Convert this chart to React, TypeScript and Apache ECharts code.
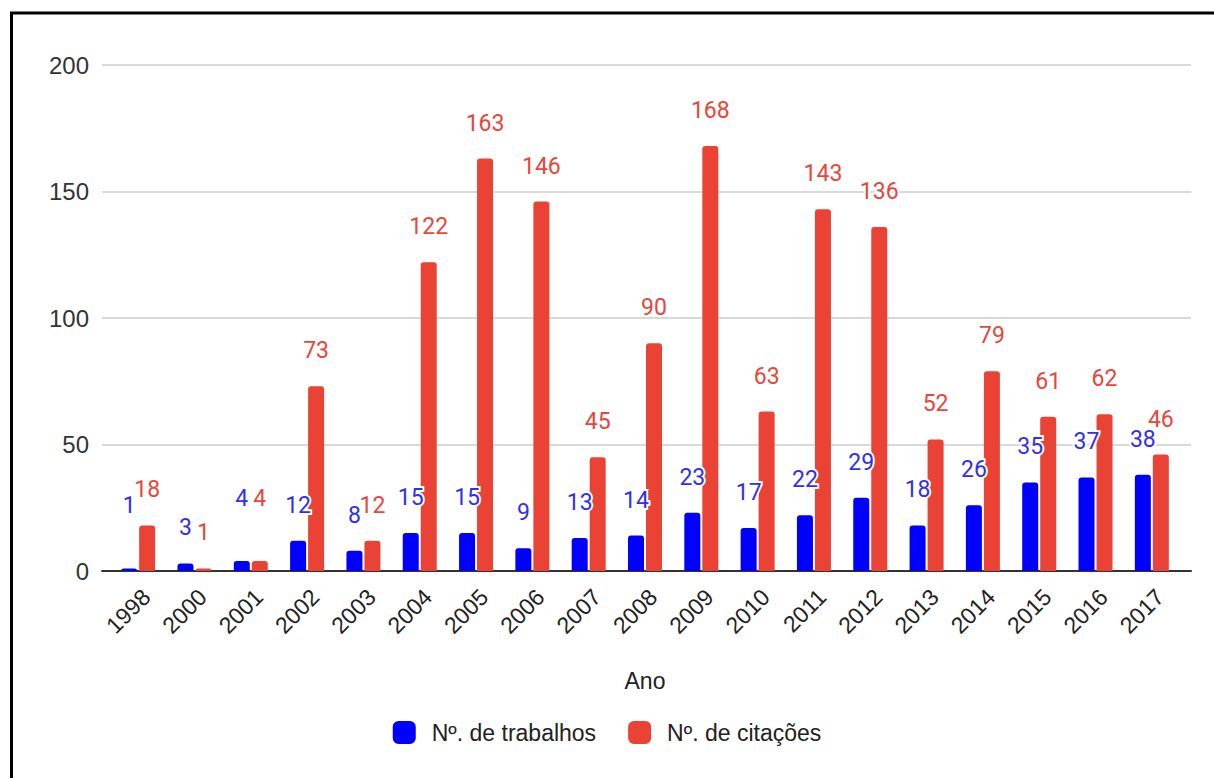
import React, { useEffect, useRef } from "react";
import * as echarts from "echarts";

const years = ["1998", "2000", "2001", "2002", "2003", "2004", "2005", "2006", "2007", "2008", "2009", "2010", "2011", "2012", "2013", "2014", "2015", "2016", "2017"];
const trabalhos = [1, 3, 4, 12, 8, 15, 15, 9, 13, 14, 23, 17, 22, 29, 18, 26, 35, 37, 38];
const citacoes = [18, 1, 4, 73, 12, 122, 163, 146, 45, 90, 168, 63, 143, 136, 52, 79, 61, 62, 46];
const yTicks = [0, 50, 100, 150, 200];

const BLUE = "#0000ff";
const RED = "#ea4335";
const LABEL_FONT = "Roboto";
const AXIS_FONT = "'Liberation Sans', Arial, sans-serif";

export default function App() {
  const ref = useRef<HTMLDivElement>(null);
  useEffect(() => {
    if (!ref.current) return;
    const chart = echarts.init(ref.current, null, { renderer: "svg" });
    const raised = (vals: number[], lift: number[]) =>
      vals.map((v, i) => (lift.includes(i) ? { value: v, label: { offset: [0, -27] } } : v));
    const labelBase = {
      show: true,
      position: "top",
      distance: 24,
      fontFamily: LABEL_FONT,
      fontSize: 23,
      textBorderColor: "#fff",
      textBorderWidth: 4,
    };
    chart.setOption({
      animation: false,
      backgroundColor: "#fff",
      graphic: [
        {
          type: "rect",
          shape: { x: 11.5, y: 13, width: 1400, height: 1000 },
          style: { fill: "none", stroke: "#000", lineWidth: 3 },
          silent: true,
        },
      ],
      grid: [
        { left: 102, right: 23, top: 65, bottom: 207 },
        { left: 110, right: 34, top: 65, bottom: 207 },
      ],
      legend: {
        data: ["Nº. de trabalhos", "Nº. de citações"],
        top: 716,
        left: "center",
        icon: "roundRect",
        itemWidth: 23,
        itemHeight: 23,
        itemGap: 32,
        textStyle: { fontFamily: AXIS_FONT, fontSize: 23, color: "#222", padding: [0, 0, 0, 11] },
      },
      xAxis: [
        {
          gridIndex: 0,
          type: "value",
          min: 0,
          max: 1,
          axisLabel: { show: false },
          axisTick: { show: false },
          splitLine: { show: false },
          axisLine: { show: true, lineStyle: { color: "#333", width: 2 } },
        },
        {
          gridIndex: 1,
          type: "category",
          data: years,
          axisLine: { show: false },
          axisTick: { show: false },
          axisLabel: {
            rotate: 45,
            interval: 0,
            margin: 14,
            verticalAlign: "top",
            fontFamily: AXIS_FONT,
            fontSize: 23,
            color: "#222",
          },
          name: "Ano",
          nameLocation: "middle",
          nameGap: 98,
          nameTextStyle: { fontFamily: AXIS_FONT, fontSize: 23, color: "#222" },
        },
      ],
      yAxis: [
        {
          gridIndex: 0,
          type: "value",
          min: yTicks[0],
          max: yTicks[yTicks.length - 1],
          interval: 50,
          axisLine: { show: false },
          axisTick: { show: false },
          axisLabel: { margin: 13, fontFamily: AXIS_FONT, fontSize: 24, color: "#333" },
          splitLine: { lineStyle: { color: "#cccccc", width: 1.5 } },
        },
        {
          gridIndex: 1,
          type: "value",
          min: yTicks[0],
          max: yTicks[yTicks.length - 1],
          interval: 50,
          show: false,
          splitLine: { show: false },
        },
      ],
      series: [
        {
          name: "Nº. de trabalhos",
          type: "bar",
          xAxisIndex: 1,
          yAxisIndex: 1,
          data: raised(trabalhos, [0, 2]),
          barWidth: 16,
          barGap: "12.5%",
          itemStyle: { color: BLUE, borderRadius: [3, 3, 0, 0] },
          label: { ...labelBase, color: "#2f2ff0" },
          z: 3,
        },
        {
          name: "Nº. de citações",
          type: "bar",
          xAxisIndex: 1,
          yAxisIndex: 1,
          data: raised(citacoes, [2]),
          barWidth: 16,
          barGap: "12.5%",
          itemStyle: { color: RED, borderRadius: [3, 3, 0, 0] },
          label: { ...labelBase, color: "#e8453c" },
          z: 3,
        },
      ],
    });
    return () => chart.dispose();
  }, []);
  return (
    <div
      ref={ref}
      style={{ position: "absolute", left: 0, top: 0, width: 1214, height: 778 }}
    />
  );
}
